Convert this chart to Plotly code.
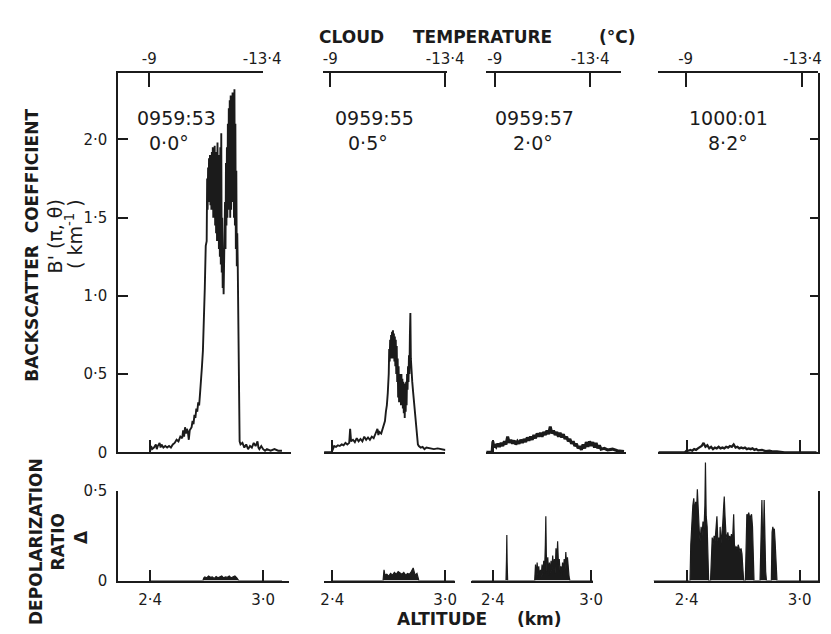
import plotly.graph_objects as go

# ---------------- data ----------------
# Backscatter coefficient B'(pi,theta) [km^-1] vs altitude [km]
alt_53 = [2.40, 2.405, 2.41, 2.42, 2.43, 2.435, 2.44, 2.45, 2.455, 2.46, 2.47, 2.48, 2.49, 2.50,
          2.51, 2.52, 2.53, 2.54, 2.55, 2.56, 2.57, 2.575, 2.58, 2.585, 2.59, 2.595, 2.60, 2.605,
          2.61, 2.62, 2.625, 2.63, 2.635, 2.64, 2.645, 2.65, 2.655, 2.66, 2.665, 2.67, 2.675, 2.68,
          2.685, 2.69, 2.695,
          2.70, 2.7025, 2.705, 2.7075, 2.71, 2.7125, 2.715, 2.7175, 2.72, 2.7225, 2.725, 2.7275,
          2.73, 2.7325, 2.735, 2.7375, 2.74, 2.7425, 2.745, 2.7475, 2.75, 2.7525, 2.755, 2.7575,
          2.76, 2.7625, 2.765, 2.7675, 2.77, 2.7725, 2.775, 2.7775, 2.78, 2.7825, 2.785, 2.7875,
          2.79, 2.7925, 2.795, 2.7975, 2.80, 2.8025, 2.805, 2.8075, 2.81, 2.8125, 2.815, 2.8175,
          2.82, 2.8225, 2.825, 2.8275, 2.83, 2.8325, 2.835, 2.8375, 2.84, 2.8425, 2.845, 2.8475,
          2.85, 2.8525, 2.855, 2.8575, 2.86, 2.8625, 2.865, 2.8675, 2.87, 2.8725, 2.875,
          2.88, 2.89, 2.90, 2.91, 2.92, 2.93, 2.94, 2.95, 2.96, 2.97, 2.975, 2.98, 2.99, 3.00,
          3.01, 3.02, 3.04, 3.06, 3.08, 3.10]
bsc_53 = [0.02, 0.04, 0.02, 0.03, 0.05, 0.02, 0.04, 0.06, 0.03, 0.05, 0.03, 0.04, 0.03, 0.04,
          0.03, 0.05, 0.06, 0.08, 0.07, 0.10, 0.09, 0.14, 0.10, 0.16, 0.12, 0.15, 0.13, 0.08,
          0.14, 0.16, 0.20, 0.18, 0.24, 0.22, 0.28, 0.26, 0.32, 0.30, 0.38, 0.45, 0.55, 0.65,
          0.80, 1.05, 1.32,
          1.35, 1.75, 1.55, 1.82, 1.60, 1.88, 1.62, 1.90, 1.58, 1.85, 1.55, 1.92,
          1.60, 1.95, 1.50, 1.90, 1.55, 1.96, 1.45, 1.92, 1.40, 1.88, 1.35, 1.98,
          1.40, 1.90, 1.30, 1.85, 1.25, 1.95, 1.20, 2.04, 1.15, 1.50, 1.05, 1.30,
          1.01, 1.35, 1.20, 1.60, 1.30, 1.85, 1.45, 1.95, 1.50, 2.10, 1.55, 2.20,
          1.60, 2.25, 1.50, 2.28, 1.55, 2.20, 1.60, 2.30, 1.65, 2.25, 1.50, 2.32,
          1.45, 2.10, 1.30, 1.80, 1.19, 1.40, 1.20, 0.90, 0.50, 0.15, 0.07,
          0.05, 0.06, 0.03, 0.05, 0.02, 0.04, 0.03, 0.06, 0.04, 0.07, 0.03, 0.02, 0.04, 0.02,
          0.01, 0.02, 0.01, 0.02, 0.01, 0.01]

alt_55 = [2.357, 2.395, 2.40, 2.405, 2.41, 2.42, 2.43, 2.44, 2.45, 2.46, 2.47, 2.48, 2.49, 2.495,
          2.50, 2.51, 2.52, 2.53, 2.54, 2.55, 2.56, 2.57, 2.58, 2.59, 2.60, 2.61, 2.62, 2.63, 2.64,
          2.645, 2.65, 2.66, 2.67, 2.68, 2.685, 2.69, 2.695,
          2.70, 2.7025, 2.705, 2.7075, 2.71, 2.7125, 2.715, 2.7175, 2.72, 2.7225, 2.725, 2.7275,
          2.73, 2.7325, 2.735, 2.7375, 2.74, 2.7425, 2.745, 2.7475, 2.75, 2.7525, 2.755, 2.7575,
          2.76, 2.7625, 2.765, 2.7675, 2.77, 2.7725, 2.775, 2.7775, 2.78, 2.7825, 2.785, 2.7875,
          2.79, 2.7925, 2.795, 2.7975, 2.80, 2.8025, 2.805, 2.8075, 2.81, 2.8125, 2.815, 2.8175,
          2.82, 2.825, 2.83, 2.84, 2.845, 2.85, 2.855, 2.86, 2.87, 2.88,
          2.89, 2.90, 2.92, 2.94, 2.96, 2.98, 3.00, 3.02]
bsc_55 = [0.0, 0.0, 0.01, 0.03, 0.04, 0.035, 0.045, 0.04, 0.05, 0.045, 0.06, 0.05, 0.06, 0.15,
          0.07, 0.08, 0.065, 0.09, 0.07, 0.085, 0.07, 0.10, 0.08, 0.095, 0.08, 0.10, 0.09, 0.12, 0.15,
          0.11, 0.13, 0.12, 0.16, 0.20, 0.26, 0.30, 0.38,
          0.50, 0.66, 0.58, 0.72, 0.60, 0.75, 0.62, 0.77, 0.60, 0.78, 0.62, 0.76,
          0.58, 0.74, 0.55, 0.72, 0.50, 0.68, 0.45, 0.60, 0.35, 0.55, 0.32, 0.50,
          0.35, 0.48, 0.30, 0.50, 0.32, 0.47, 0.28, 0.45, 0.25, 0.44, 0.22, 0.40,
          0.26, 0.45, 0.30, 0.50, 0.40, 0.55, 0.45, 0.62, 0.50, 0.75, 0.89, 0.60,
          0.52, 0.45, 0.38, 0.25, 0.15, 0.08, 0.05, 0.04, 0.03, 0.035,
          0.02, 0.03, 0.025, 0.02, 0.025, 0.02, 0.015, 0.02]

alt_57 = [2.36, 2.395, 2.40, 2.405, 2.41, 2.42, 2.43, 2.44, 2.45, 2.46, 2.47, 2.48, 2.49, 2.50,
          2.51, 2.52, 2.53, 2.54, 2.55, 2.56, 2.57, 2.58, 2.59, 2.60, 2.61, 2.62, 2.63, 2.64, 2.65,
          2.66, 2.67, 2.68, 2.69, 2.70, 2.71, 2.72, 2.73, 2.74, 2.75, 2.76, 2.77, 2.78, 2.79, 2.80,
          2.81, 2.82, 2.83, 2.84, 2.85, 2.86, 2.87, 2.88, 2.89, 2.90, 2.91, 2.92, 2.93, 2.94, 2.95,
          2.96, 2.97, 2.98, 2.99, 3.00, 3.01, 3.02, 3.03, 3.04, 3.05, 3.06, 3.08, 3.10, 3.13, 3.16,
          3.20]
bsc_57 = [0.0, 0.0, 0.07, 0.03, 0.05, 0.035, 0.055, 0.035, 0.06, 0.04, 0.07, 0.05, 0.10, 0.06,
          0.08, 0.055, 0.075, 0.05, 0.07, 0.055, 0.08, 0.06, 0.085, 0.065, 0.095, 0.075, 0.10, 0.08,
          0.11, 0.09, 0.12, 0.10, 0.125, 0.10, 0.13, 0.11, 0.14, 0.115, 0.165, 0.12, 0.14, 0.11,
          0.13, 0.10, 0.125, 0.095, 0.115, 0.085, 0.10, 0.07, 0.085, 0.055, 0.07, 0.04, 0.055, 0.025,
          0.04, 0.015, 0.05, 0.025, 0.065, 0.035, 0.07, 0.04, 0.065, 0.03, 0.06, 0.025, 0.045, 0.02,
          0.025, 0.015, 0.02, 0.01, 0.005]

alt_01 = [2.25, 2.39, 2.40, 2.41, 2.42, 2.43, 2.44, 2.45, 2.46, 2.47, 2.48, 2.49, 2.50, 2.51,
          2.52, 2.53, 2.54, 2.55, 2.56, 2.57, 2.58, 2.59, 2.60, 2.61, 2.62, 2.63, 2.64, 2.65, 2.66,
          2.67, 2.68, 2.69, 2.70, 2.71, 2.72, 2.73, 2.74, 2.75, 2.76, 2.77, 2.78, 2.80, 2.82, 2.84,
          2.86, 2.88, 2.90, 2.92, 3.09]
bsc_01 = [0.0, 0.0, 0.01, 0.01, 0.015, 0.01, 0.02, 0.015, 0.025, 0.03, 0.04, 0.06, 0.035, 0.045,
          0.025, 0.035, 0.02, 0.03, 0.025, 0.035, 0.025, 0.03, 0.025, 0.035, 0.03, 0.04, 0.035, 0.05,
          0.03, 0.035, 0.025, 0.03, 0.025, 0.03, 0.02, 0.025, 0.02, 0.025, 0.015, 0.02, 0.012,
          0.015, 0.008, 0.01, 0.005, 0.006, 0.003, 0.0, 0.0]

# Depolarization ratio (Delta) vs altitude [km]
dalt_53 = [2.40, 2.68, 2.685, 2.69, 2.70, 2.71, 2.72, 2.73, 2.74, 2.75, 2.76, 2.77, 2.78, 2.79,
           2.80, 2.81, 2.82, 2.83, 2.84, 2.85, 2.86, 2.865, 2.87, 3.10]
dep_53 = [0.0, 0.0, 0.015, 0.02, 0.015, 0.025, 0.018, 0.02, 0.012, 0.022, 0.015, 0.02, 0.025, 0.015,
          0.02, 0.018, 0.025, 0.015, 0.02, 0.025, 0.015, 0.01, 0.0, 0.0]

dalt_55 = [2.40, 2.67, 2.675, 2.68, 2.69, 2.70, 2.71, 2.72, 2.73, 2.74, 2.75, 2.76, 2.77, 2.78,
           2.79, 2.80, 2.81, 2.82, 2.83, 2.84, 2.85, 2.855, 2.86, 3.05]
dep_55 = [0.0, 0.0, 0.06, 0.03, 0.035, 0.025, 0.04, 0.03, 0.045, 0.035, 0.05, 0.04, 0.035, 0.045,
          0.03, 0.04, 0.035, 0.05, 0.07, 0.03, 0.04, 0.02, 0.0, 0.0]

dalt_57 = [2.27, 2.48, 2.483, 2.485, 2.487, 2.49, 2.655, 2.66, 2.665, 2.67, 2.675, 2.68, 2.685,
           2.69, 2.695, 2.70, 2.705, 2.71, 2.715, 2.72, 2.723, 2.726, 2.73, 2.735, 2.74, 2.745,
           2.75, 2.755, 2.76, 2.765, 2.77, 2.775, 2.78, 2.785, 2.79, 2.795, 2.80, 2.805, 2.81,
           2.815, 2.82, 2.825, 2.83, 2.835, 2.84, 2.845, 2.85, 2.855, 2.86, 2.865, 2.87, 3.01]
dep_57 = [0.0, 0.0, 0.12, 0.255, 0.10, 0.0, 0.0, 0.09, 0.02, 0.10, 0.03, 0.08, 0.01,
          0.06, 0.02, 0.09, 0.03, 0.11, 0.04, 0.20, 0.36, 0.15, 0.05, 0.13, 0.03, 0.10,
          0.04, 0.11, 0.05, 0.14, 0.06, 0.12, 0.04, 0.18, 0.10, 0.22, 0.09, 0.12, 0.05,
          0.08, 0.03, 0.10, 0.05, 0.12, 0.06, 0.16, 0.08, 0.13, 0.04, 0.02, 0.0, 0.0]

dalt_01 = [2.224, 2.418, 2.422, 2.428, 2.433, 2.438, 2.443, 2.448, 2.452, 2.457, 2.462, 2.467,
           2.472, 2.477, 2.482, 2.487, 2.492, 2.497, 2.50, 2.504, 2.509, 2.513, 2.517, 2.527,
           2.531, 2.536, 2.541, 2.546, 2.551, 2.556, 2.561, 2.566, 2.571, 2.576, 2.578, 2.582,
           2.587, 2.592, 2.596, 2.60, 2.604, 2.609, 2.614, 2.619, 2.624, 2.629, 2.634, 2.638,
           2.643, 2.647, 2.65, 2.654, 2.659, 2.664, 2.669, 2.674, 2.679, 2.684, 2.689, 2.694,
           2.698, 2.703, 2.712, 2.716, 2.72, 2.725, 2.73, 2.735, 2.74, 2.745, 2.75, 2.755, 2.758,
           2.79, 2.795, 2.80, 2.804, 2.808, 2.812, 2.816, 2.82, 2.824, 2.85, 2.854, 2.858, 2.862,
           2.866, 2.87, 2.875, 2.88, 3.098]
dep_01 = [0.0, 0.0, 0.20, 0.36, 0.42, 0.46, 0.38, 0.44, 0.36, 0.51, 0.33, 0.28,
          0.22, 0.30, 0.25, 0.33, 0.28, 0.42, 0.66, 0.36, 0.30, 0.12, 0.0, 0.0,
          0.17, 0.24, 0.20, 0.25, 0.22, 0.28, 0.36, 0.22, 0.24, 0.19, 0.30, 0.20,
          0.25, 0.32, 0.40, 0.47, 0.36, 0.26, 0.24, 0.27, 0.23, 0.25, 0.22, 0.26,
          0.20, 0.30, 0.37, 0.20, 0.18, 0.19, 0.17, 0.20, 0.18, 0.16, 0.18, 0.15,
          0.08, 0.0, 0.0, 0.30, 0.37, 0.36, 0.38, 0.35, 0.36, 0.37, 0.30, 0.10, 0.0,
          0.0, 0.20, 0.45, 0.22, 0.24, 0.45, 0.20, 0.05, 0.0, 0.0, 0.27, 0.30, 0.27,
          0.29, 0.22, 0.05, 0.0, 0.0]

times = ["0959:53", "0959:55", "0959:57", "1000:01"]
angles = ["0·0°", "0·5°", "2·0°", "8·2°"]
bsc_ticks = [0, 0.5, 1.0, 1.5, 2.0]
bsc_ticktext = ["0", "0·5", "1·0", "1·5", "2·0"]
dep_ticks = [0, 0.5]
dep_ticktext = ["0", "0·5"]
alt_ticks = [2.4, 3.0]
alt_ticktext = ["2·4", "3·0"]
temp_ticks = [-9, -13.4]
temp_ticktext = ["-9", "-13·4"]

top_series = [(alt_53, bsc_53), (alt_55, bsc_55), (alt_57, bsc_57), (alt_01, bsc_01)]
dep_series = [(dalt_53, dep_53), (dalt_55, dep_55), (dalt_57, dep_57), (dalt_01, dep_01)]

# ---------------- layout geometry (pixels) ----------------
W, H = 831, 634
INK = "#1b1b1b"
FONT = "DejaVu Sans"
CLEAR = "rgba(0,0,0,0)"
top_line_w = [1.9, 1.9, 3.0, 2.3]

top_px = [(110, 288), (321, 446), (488, 632), (665, 829)]
bot_px = [(110, 286), (321, 456), (473, 598), (660, 829)]
alt_ref_px = [(143, 259), (330, 446), (495, 596), (694, 810)]   # pixel of 2.4 and 3.0 km
temp_px = [(110, 258.5), (320, 448), (488, 627), (665, 828.5)]
temp_ref_px = [(142, 258), (328, 446), (497, 595), (693, 813)]  # pixel of -9 and -13.4 C
top_y_px = (58, 448)      # top, baseline
top_units_px = 161.0      # pixels per km^-1
bot_y_px = (488, 580)     # 0.5 level, baseline
bot_data_top_px = 452     # depolarization spikes rise above the 0.5 frame


def xdom(a, b):
    return [a / W, b / W]


def ydom(top, bottom):
    return [1 - bottom / H, 1 - top / H]


def lin_range(a, b, p0, p1, v0, v1):
    s = (v1 - v0) / (p1 - p0)
    return [v0 + (a - p0) * s, v0 + (b - p0) * s]


fig = go.Figure()

for i in range(4):
    n = i + 1
    sx = "" if n == 1 else str(n)
    # axis carriers (empty), drawn first
    fig.add_trace(go.Scatter(x=[], y=[], mode="lines", xaxis=f"x{n+8}", yaxis=f"y{sx}",
                             hoverinfo="skip"))
    fig.add_trace(go.Scatter(x=[], y=[], mode="lines", xaxis=f"x{n+4}", yaxis=f"y{n+4}",
                             hoverinfo="skip"))
    # top row: backscatter
    ax, ay = top_series[i]
    fig.add_trace(go.Scatter(x=ax, y=ay, mode="lines", xaxis=f"x{sx}", yaxis=f"y{sx}",
                             line=dict(color=INK, width=top_line_w[i]), hoverinfo="skip"))
    # bottom row: depolarization (on a taller hidden y axis with the same scale)
    dx, dy = dep_series[i]
    fig.add_trace(go.Scatter(x=dx, y=dy, mode="lines", xaxis=f"x{n+4}", yaxis=f"y{n+12}",
                             fill="tozeroy", fillcolor=INK,
                             line=dict(color=INK, width=1.2), hoverinfo="skip"))

lay = {}
axis_common = dict(showgrid=False, zeroline=False, linecolor=INK, linewidth=1.5,
                   tickcolor=INK, tickwidth=1.5, tickfont=dict(family=FONT, size=15, color=INK))

ytop_range = [0, (top_y_px[1] - top_y_px[0]) / top_units_px]
dep_units_px = (bot_y_px[1] - bot_y_px[0]) / 0.5
ydata_range = [0, (bot_y_px[1] - bot_data_top_px) / dep_units_px]

for i in range(4):
    n = i + 1
    sx = "" if n == 1 else str(n)
    # top-row x (baseline)
    a, b = top_px[i]
    p0, p1 = alt_ref_px[i]
    lay[f"xaxis{sx}"] = dict(axis_common, domain=xdom(a, b),
                             range=lin_range(a, b, p0, p1, 2.4, 3.0),
                             anchor=f"y{sx}", showline=True, ticks="inside", ticklen=13,
                             tickvals=alt_ticks if n == 4 else alt_ticks[:1],
                             showticklabels=False)
    # top-row y
    ycfg = dict(axis_common, domain=ydom(*top_y_px), range=ytop_range, anchor=f"x{sx}")
    if n == 1:
        ycfg.update(showline=True, side="left", ticks="inside", ticklen=10,
                    tickvals=bsc_ticks, ticktext=bsc_ticktext, ticklabelstandoff=6)
    elif n == 4:
        ycfg.update(showline=True, side="right", ticks="inside", ticklen=8,
                    tickvals=bsc_ticks[1:], showticklabels=False)
    else:
        ycfg.update(visible=False)
    lay[f"yaxis{sx}"] = ycfg

    # bottom-row x
    a, b = bot_px[i]
    lay[f"xaxis{n+4}"] = dict(axis_common, domain=xdom(a, b),
                              range=lin_range(a, b, p0, p1, 2.4, 3.0),
                              anchor=f"y{n+4}", showline=True, ticks="inside", ticklen=11,
                              tickvals=alt_ticks, ticktext=alt_ticktext, ticklabelstandoff=5)
    ycfg = dict(axis_common, domain=ydom(*bot_y_px), range=[0, 0.5], anchor=f"x{n+4}")
    if n == 1:
        ycfg.update(showline=True, side="left", ticks="inside", ticklen=10,
                    tickvals=dep_ticks, ticktext=dep_ticktext, ticklabelstandoff=6)
    elif n == 4:
        ycfg.update(showline=True, side="right", ticks="inside", ticklen=12,
                    tickvals=dep_ticks[1:], showticklabels=False)
    else:
        ycfg.update(visible=False)
    lay[f"yaxis{n+4}"] = ycfg
    # hidden data axis for depolarization
    lay[f"yaxis{n+12}"] = dict(domain=ydom(bot_data_top_px, bot_y_px[1]), range=ydata_range,
                               anchor=f"x{n+4}", visible=False, showgrid=False, zeroline=False)

    # temperature axis on top
    a, b = temp_px[i]
    q0, q1 = temp_ref_px[i]
    lay[f"xaxis{n+8}"] = dict(axis_common, domain=xdom(a, b),
                              range=lin_range(a, b, q0, q1, -9, -13.4),
                              anchor=f"y{sx}", side="top", showline=True, ticks="inside",
                              ticklen=14, tickvals=temp_ticks, ticktext=temp_ticktext,
                              ticklabelstandoff=2)

fig.update_layout(**lay)


def ann(text, px, py, size, angle=0, bold=False):
    t = f"<b>{text}</b>" if bold else text
    return dict(text=t, x=px / W, y=1 - py / H, xref="paper", yref="paper",
                showarrow=False, textangle=angle, xanchor="center", yanchor="middle",
                font=dict(family=FONT, size=size, color=INK))


annots = [
    ann("CLOUD", 350, 21, 17, bold=True),
    ann("TEMPERATURE", 484, 21, 17, bold=True),
    ann("(°C)", 623, 21, 17, bold=True),
    ann("ALTITUDE", 443, 620, 17, bold=True),
    ann("(km)", 543, 620, 17, bold=True),
    ann("BACKSCATTER\u00a0\u00a0COEFFICIENT", 22, 235, 17, angle=-90, bold=True),
    ann("B'\u00a0(π,\u00a0θ)", 45, 226, 19, angle=-90),
    ann("(\u00a0km<sup>-1</sup>\u00a0)", 64, 223, 19, angle=-90),
    ann("DEPOLARIZATION", 25, 540, 17, angle=-90, bold=True),
    ann("RATIO", 48, 540, 17, angle=-90, bold=True),
    ann("Δ", 72, 535, 17, angle=-90, bold=True),
]
time_x = [170, 373, 538, 737]
angle_x = [162, 367, 536, 737]
for i in range(4):
    annots.append(ann(times[i], time_x[i], 104, 19))
    annots.append(ann(angles[i], angle_x[i], 130, 19))

fig.update_layout(width=W, height=H, margin=dict(l=0, r=0, t=0, b=0),
                  paper_bgcolor="white", plot_bgcolor=CLEAR, showlegend=False,
                  annotations=annots, font=dict(family=FONT, color=INK))

fig.write_html("out.html")
